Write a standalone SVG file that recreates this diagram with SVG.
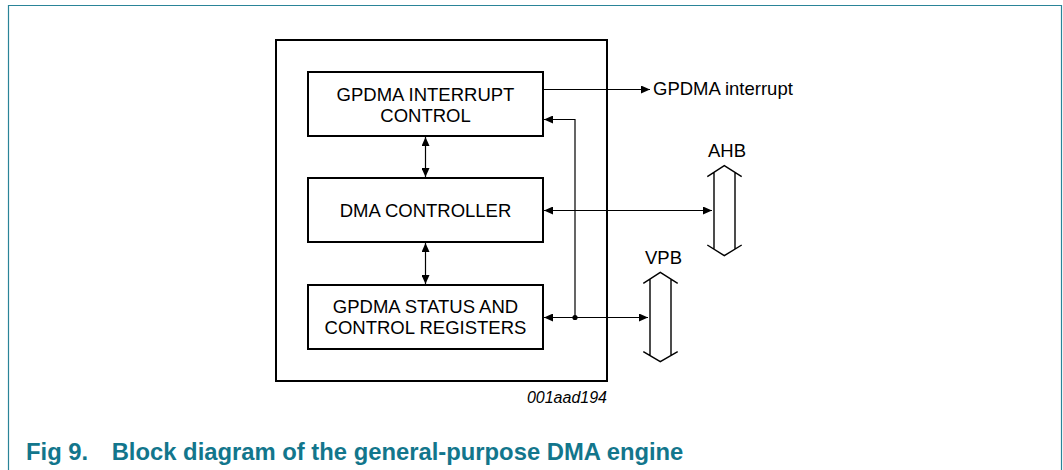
<svg xmlns="http://www.w3.org/2000/svg" width="1063" height="470" viewBox="0 0 1063 470">
<defs>
<style>
.box{fill:#fff;stroke:#000;stroke-width:2}
.lbl{font-family:"Liberation Sans",Arial,sans-serif;font-size:18.5px;fill:#000}
.c{text-anchor:middle}
.wire{fill:none;stroke:#000;stroke-width:1.2}
.bus{fill:none;stroke:#000;stroke-width:1.4}
</style>
<marker id="ah" viewBox="0 0 9 8" markerWidth="9" markerHeight="8" refX="9" refY="4" orient="auto-start-reverse" markerUnits="userSpaceOnUse">
<path d="M0,0 L9,4 L0,8 z" fill="#000"/>
</marker>
</defs>
<rect width="1063" height="470" fill="#fff"/>
<g id="frame">
<path d="M8.5,470 V5.5 H1061.5 V470" fill="none" stroke="#2a8498" stroke-width="1.2"/>
</g>
<g id="dma-engine">
<rect x="276" y="40" width="331" height="341" class="box"/>
</g>
<g id="interrupt-control">
<rect x="308" y="72" width="235" height="64" class="box"/>
<text class="lbl c" x="425.5" y="100.5">GPDMA INTERRUPT</text>
<text class="lbl c" x="425.5" y="121.5">CONTROL</text>
</g>
<g id="dma-controller">
<rect x="308" y="178" width="235" height="64" class="box"/>
<text class="lbl c" x="425.5" y="216.5">DMA CONTROLLER</text>
</g>
<g id="status-registers">
<rect x="308" y="285" width="235" height="64" class="box"/>
<text class="lbl c" x="425.5" y="313.3">GPDMA STATUS AND</text>
<text class="lbl c" x="425.5" y="334">CONTROL REGISTERS</text>
</g>
<g id="gpdma-interrupt">
<text class="lbl" x="653" y="95">GPDMA interrupt</text>
</g>
<g id="ahb">
<text class="lbl" x="708" y="157">AHB</text>
<path class="bus" d="M707.3,176.7 L724.3,165.7 L741.7,176.7 M707.3,245 L724.3,255.7 L741.7,245 M714,172.4 V249.2 M735,172.5 V249.1"/>
</g>
<g id="vpb">
<text class="lbl" x="645" y="264.3">VPB</text>
<path class="bus" d="M643.3,283.3 L660.3,272.3 L677.7,283.3 M643.3,351.7 L660.3,361.7 L677.7,351.7 M650,279 V355.6 M671,279.1 V355.6"/>
</g>
<g id="connectors">
<line class="wire" x1="543" y1="89.5" x2="650" y2="89.5" marker-end="url(#ah)"/>
<polyline class="wire" points="575,317.5 575,119.5 544,119.5" marker-end="url(#ah)"/>
<line class="wire" x1="544" y1="210.5" x2="712" y2="210.5" marker-start="url(#ah)" marker-end="url(#ah)"/>
<line class="wire" x1="544" y1="317.5" x2="648" y2="317.5" marker-start="url(#ah)" marker-end="url(#ah)"/>
<circle cx="575" cy="317.5" r="2.6" fill="#000"/>
<line class="wire" x1="425.5" y1="137" x2="425.5" y2="177" marker-start="url(#ah)" marker-end="url(#ah)"/>
<line class="wire" x1="425.5" y1="243" x2="425.5" y2="284" marker-start="url(#ah)" marker-end="url(#ah)"/>
</g>
<g id="figure-id">
<text x="607" y="402.7" text-anchor="end" font-family="'Liberation Sans',Arial,sans-serif" font-size="16" font-style="italic" fill="#000">001aad194</text>
</g>
<g id="caption">
<text y="460" font-family="'Liberation Sans',Arial,sans-serif" font-size="23.8" font-weight="bold" fill="#12768c"><tspan x="26">Fig 9.</tspan><tspan x="111.7">Block diagram of the general-purpose DMA engine</tspan></text>
</g>
</svg>
